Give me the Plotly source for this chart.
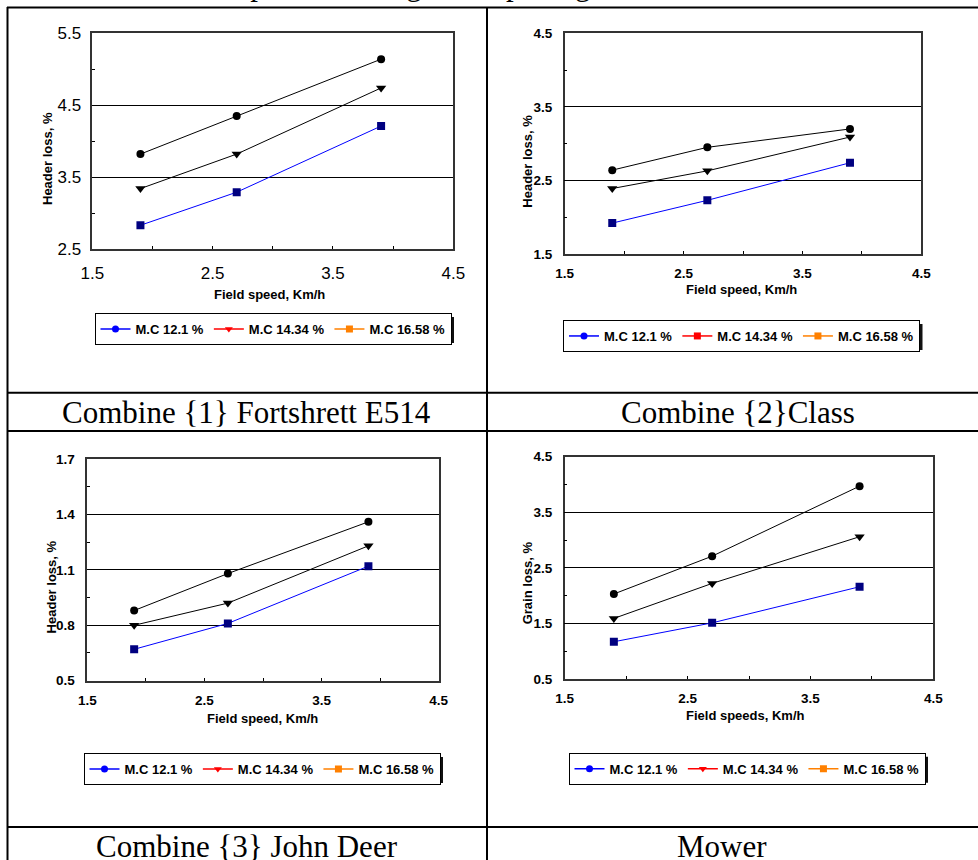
import plotly.graph_objects as go

W, H = 978, 860

# ---------------- data ----------------
speed = [1.9, 2.7, 3.9]
series_names = ["M.C 12.1 %", "M.C 14.34 %", "M.C 16.58 %"]

c1_mc121 = [3.82, 4.35, 5.14]
c1_mc1434 = [3.34, 3.82, 4.74]
c1_mc1658 = [2.83, 3.29, 4.21]

c2_mc121 = [2.64, 2.95, 3.20]
c2_mc1434 = [2.39, 2.63, 3.09]
c2_mc1658 = [1.92, 2.23, 2.74]

c3_mc121 = [0.88, 1.08, 1.36]
c3_mc1434 = [0.80, 0.92, 1.23]
c3_mc1658 = [0.67, 0.81, 1.12]

mw_mc121 = [2.03, 2.71, 3.97]
mw_mc1434 = [1.59, 2.22, 3.06]
mw_mc1658 = [1.17, 1.51, 2.16]

captions = ["Combine {1} Fortshrett E514", "Combine {2}Class",
            "Combine {3} John Deer", "Mower"]
y_titles = ["Header loss, %", "Header loss, %", "Header loss, %", "Grain loss, %"]
x_titles = ["Field speed, Km/h", "Field speed, Km/h", "Field speed, Km/h",
            "Field speeds, Km/h"]
x_ticks = [1.5, 2.5, 3.5, 4.5]
y_ticks_1 = [2.5, 3.5, 4.5, 5.5]
y_ticks_2 = [1.5, 2.5, 3.5, 4.5]
y_ticks_3 = [0.5, 0.8, 1.1, 1.4, 1.7]
y_ticks_4 = [0.5, 1.5, 2.5, 3.5, 4.5]
top_text = "reduction that have passed through the openings."

charts = [
    (c1_mc121, c1_mc1434, c1_mc1658),
    (c2_mc121, c2_mc1434, c2_mc1658),
    (c3_mc121, c3_mc1434, c3_mc1658),
    (mw_mc121, mw_mc1434, mw_mc1658),
]
y_tick_sets = [y_ticks_1, y_ticks_2, y_ticks_3, y_ticks_4]

# ---------------- layout helpers (pixels -> paper) ----------------
def px(x):
    return x / W

def py(y):
    return 1 - y / H

# plot areas: (left, right, top, bottom) in pixels
areas = [
    (92.3, 453.3, 33.3, 249.0),
    (564.7, 921.3, 33.3, 254.0),
    (87.3, 438.7, 459.0, 680.7),
    (564.7, 933.3, 456.7, 679.0),
]
ytitle_pos = [(47.7, 158.3), (528.0, 161.7), (51.7, 586.7), (527.3, 583.0)]
xtitle_pos = [(269.5, 294.0), (741.3, 290.0), (262.0, 718.3), (745.0, 715.0)]
legend_pos = [(273.0, 313.0), (741.5, 320.0), (262.0, 753.0), (747.0, 752.7)]
LEG_HALF_W, LEG_H = 178.0, 28.0
caption_pos = [(246.5, 412.0), (738.0, 412.0), (247.0, 846.0), (722.0, 846.0)]
legend_symbols = [
    ["circle", "triangle-down", "square"],
    ["circle", "square", "square"],
    ["circle", "triangle-down", "square"],
    ["circle", "triangle-down", "square"],
]
legend_colors = ["#0000FF", "#FF0000", "#FF8000"]

plot_symbols = ["circle", "triangle-down", "square"]
plot_marker_colors = ["#000000", "#000000", "#000080"]
plot_line_colors = ["#000000", "#000000", "#0000FF"]
plot_marker_sizes = [8, 9, 8]

FONT = "Arial, Liberation Sans, sans-serif"
SERIF = "Times New Roman, Liberation Serif, serif"

fig = go.Figure()
layout = dict(
    width=W, height=H,
    margin=dict(l=0, r=0, t=0, b=0, pad=0, autoexpand=False),
    paper_bgcolor="white", plot_bgcolor="white",
    showlegend=True,
    font=dict(family=FONT, color="black"),
)
annotations = []
shapes = []

for i, (area, data, yt) in enumerate(zip(areas, charts, y_tick_sets)):
    n = "" if i == 0 else str(i + 1)
    xa, ya = "x" + n, "y" + n
    lg = "legend" + n
    l, r, t, b = area
    ystep = yt[1] - yt[0]
    if i == 0:
        tfont = dict(family=FONT, size=17, color="black")
    else:
        tfont = dict(family=FONT, size=13.5, color="black", weight="bold")
    layout["xaxis" + n] = dict(
        domain=[px(l), px(r)], anchor=ya, range=[x_ticks[0], x_ticks[-1]],
        tickmode="array", tickvals=x_ticks, ticktext=[f"{v:.1f}" for v in x_ticks],
        ticks="inside", ticklen=3, tickcolor="black",
        minor=dict(dtick=0.5, tick0=1.5, ticks="inside", ticklen=3, tickcolor="black"),
        showgrid=False, zeroline=False, automargin=False,
        showline=True, mirror=True, linecolor="#333333", linewidth=1.5,
        tickfont=tfont, ticklabelstandoff=8 if i == 0 else 6,
    )
    layout["yaxis" + n] = dict(
        domain=[py(b), py(t)], anchor=xa, range=[yt[0], yt[-1]],
        tickmode="array", tickvals=yt, ticktext=[f"{v:.1f}" for v in yt],
        ticks="inside", ticklen=3, tickcolor="black",
        minor=dict(dtick=ystep / 2, tick0=yt[0], ticks="inside", ticklen=3,
                   tickcolor="black"),
        showgrid=True, gridcolor="black", gridwidth=1, zeroline=False,
        automargin=False,
        showline=True, mirror=True, linecolor="#333333", linewidth=1.5,
        tickfont=tfont, ticklabelstandoff=6 if i == 0 else 8,
    )
    # actual data traces
    for k, ys in enumerate(data):
        fig.add_trace(go.Scatter(
            x=speed, y=ys, mode="lines+markers", name=series_names[k],
            xaxis=xa, yaxis=ya, showlegend=False,
            line=dict(color=plot_line_colors[k], width=1),
            marker=dict(symbol=plot_symbols[k], color=plot_marker_colors[k],
                        size=plot_marker_sizes[k]),
        ))
    # legend entries (Excel-style legend keys)
    for k in range(3):
        fig.add_trace(go.Scatter(
            x=[None], y=[None], mode="lines+markers", name=series_names[k],
            xaxis=xa, yaxis=ya, legend=lg, showlegend=True,
            line=dict(color=legend_colors[k], width=1.5),
            marker=dict(symbol=legend_symbols[i][k], color=legend_colors[k], size=7),
        ))
    lx, ly = legend_pos[i]
    layout[lg] = dict(
        orientation="h", x=px(lx), y=py(ly), xanchor="center", yanchor="top",
        bgcolor="white", bordercolor="black", borderwidth=1,
        font=dict(family=FONT, size=13, color="black", weight="bold"),
        itemwidth=30, tracegroupgap=0, itemclick=False,
    )
    # legend drop shadow (Excel style)
    shapes.append(dict(
        type="rect", xref="paper", yref="paper", layer="above",
        x0=px(lx - LEG_HALF_W + 4), x1=px(lx + LEG_HALF_W + 3),
        y0=py(ly + LEG_H + 2), y1=py(ly + 4),
        line=dict(width=0), fillcolor="#111111"))
    # axis titles
    tx, ty = ytitle_pos[i]
    annotations.append(dict(
        text=y_titles[i], x=px(tx), y=py(ty), xref="paper", yref="paper",
        showarrow=False, textangle=-90, xanchor="center", yanchor="middle",
        font=dict(family=FONT, size=13, color="black", weight="bold")))
    tx, ty = xtitle_pos[i]
    annotations.append(dict(
        text=x_titles[i], x=px(tx), y=py(ty), xref="paper", yref="paper",
        showarrow=False, xanchor="center", yanchor="middle",
        font=dict(family=FONT, size=13, color="black", weight="bold")))
    # caption
    cx, cy = caption_pos[i]
    annotations.append(dict(
        text=captions[i], x=px(cx), y=py(cy), xref="paper", yref="paper",
        showarrow=False, xanchor="center", yanchor="middle",
        font=dict(family=SERIF, size=31, color="black")))

# cut-off line of document text above the table
annotations.append(dict(
    text=top_text, x=px(4), y=py(3), xref="paper", yref="paper",
    showarrow=False, xanchor="left", yanchor="bottom", borderpad=0,
    font=dict(family=SERIF, size=31, color="black")))

# table grid lines
def hline(y, x0=7, x1=978):
    shapes.append(dict(type="line", xref="paper", yref="paper",
                       x0=px(x0), x1=px(x1), y0=py(y), y1=py(y),
                       line=dict(color="black", width=2)))

def vline(x, y0=7, y1=860):
    shapes.append(dict(type="line", xref="paper", yref="paper",
                       x0=px(x), x1=px(x), y0=py(y0), y1=py(y1),
                       line=dict(color="black", width=2)))

hline(7.5)
hline(392.7)
hline(431)
hline(827)
vline(7.5)
vline(487)

layout["annotations"] = annotations
layout["shapes"] = shapes
fig.update_layout(**layout)

fig.write_html("out.html", config={"displayModeBar": False},
               post_script="document.body.style.margin='0';")
